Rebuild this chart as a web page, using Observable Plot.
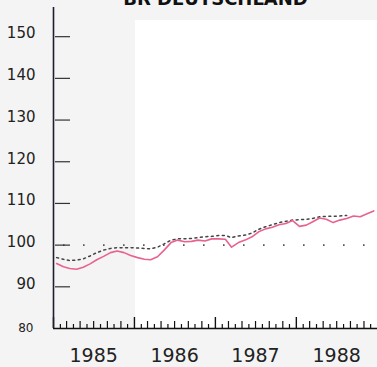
<!DOCTYPE html>
<html>
<head>
<meta charset="utf-8">
<script src="https://cdn.jsdelivr.net/npm/d3@7"></script>
<script src="https://cdn.jsdelivr.net/npm/@observablehq/plot@0.6"></script>
<style>
  html, body { margin: 0; padding: 0; background: #f4f4f4; }
  #wrap { position: relative; width: 377px; height: 367px; overflow: hidden; }
  #panel { position: absolute; left: 135px; top: 20px; right: 0; bottom: 40px; background: #ffffff; }
  #chart { position: absolute; left: 0; top: 0; }
</style>
</head>
<body>
<div id="wrap"><div id="panel"></div><div id="chart"></div></div>
<script>
const title = "BR DEUTSCHLAND";
const yearLabels = ["1985", "1986", "1987", "1988"];
const yTicks = [80, 90, 100, 110, 120, 130, 140, 150];
const refLevel = 100;
// monthly values, Jan 1985 onward
const actual = [
  95.6, 94.8, 94.4, 94.2, 94.7, 95.5, 96.5, 97.3, 98.2, 98.6, 98.2, 97.5,
  97.0, 96.6, 96.5, 97.2, 98.8, 100.6, 101.2, 100.8, 100.9, 101.2, 101.0, 101.5,
  101.5, 101.4, 99.5, 100.6, 101.2, 102.0, 103.2, 103.9, 104.3, 104.9, 105.2, 105.9,
  104.5, 104.8, 105.6, 106.5, 106.2, 105.4, 106.0, 106.4, 107.0, 106.8, 107.5, 108.2
];
const trend = [
  97.0, 96.6, 96.3, 96.4, 96.7, 97.4, 98.2, 98.8, 99.2, 99.4, 99.4, 99.4,
  99.3, 99.2, 99.1, 99.5, 100.3, 101.2, 101.5, 101.5, 101.6, 101.8, 102.0, 102.1,
  102.3, 102.3, 101.8, 102.2, 102.4, 102.9, 103.8, 104.4, 104.9, 105.4, 105.7, 106.0,
  106.1, 106.2, 106.4, 106.8, 106.9, 106.9, 107.0, 107.1
];

const startYear = +yearLabels[0];
const monthDate = (i, day = 15) => new Date(Date.UTC(startYear, i, day));
const actualData = actual.map((v, i) => ({date: monthDate(i), value: v}));
const trendData = trend.map((v, i) => ({date: monthDate(i), value: v}));
const nMonths = yearLabels.length * 12;
const monthTicks = d3.range(0, nMonths).map(i => ({date: new Date(Date.UTC(startYear, i, 1)), kind: i % 12 === 0 ? "year" : (i % 2 === 0 ? "mid" : "short")}));
const x0 = new Date(Date.UTC(startYear, 0, 1));
const x1 = new Date(Date.UTC(startYear + yearLabels.length, 0, 1));

const W = 377, H = 367, mL = 53, mR = 0, mT = 7, mB = 39;
const frameH = H - mT - mB;
const axisColor = "#1e1e2e";

const plot = Plot.plot({
  width: W, height: H,
  marginLeft: mL, marginRight: mR, marginTop: mT, marginBottom: mB,
  style: {fontFamily: "DejaVu Sans", background: "transparent", color: "#222", overflow: "visible"},
  x: {type: "utc", domain: [x0, x1], axis: null},
  y: {domain: [80, 157], axis: null},
  marks: [
    // reference dotted line at 100
    Plot.ruleY([refLevel], {stroke: "#555", strokeWidth: 1.6, strokeDasharray: "1.6,18.4", strokeDashoffset: 10}),
    // trend (dotted)
    Plot.line(trendData, {x: "date", y: "value", stroke: "#444", strokeWidth: 1.5, strokeDasharray: "2,3.5", curve: "linear"}),
    // actual (pink)
    Plot.line(actualData, {x: "date", y: "value", stroke: "#e8628e", strokeWidth: 1.6, curve: "linear"}),
    // y tick marks (inside)
    Plot.ruleY(yTicks.filter(d => d > 80), {stroke: "#333", strokeWidth: 1.2, insetLeft: 2, insetRight: W - mL - mR - 17}),
    // x tick marks
    Plot.ruleX(monthTicks.filter(d => d.kind === "year"), {x: "date", stroke: "#111", strokeWidth: 1.4, insetTop: frameH - 11}),
    Plot.ruleX(monthTicks.filter(d => d.kind === "mid"), {x: "date", stroke: "#111", strokeWidth: 1.2, insetTop: frameH - 7}),
    Plot.ruleX(monthTicks.filter(d => d.kind === "short"), {x: "date", stroke: "#111", strokeWidth: 1.2, insetTop: frameH - 4}),
    // axis lines
    Plot.ruleY([80], {stroke: "#111", strokeWidth: 1.5}),
    Plot.ruleX([x0], {stroke: axisColor, strokeWidth: 1.6}),
    // y labels
    Plot.text(yTicks.filter(d => d > 80), {x: () => x0, y: d => d, text: d => String(d), textAnchor: "end", dx: -18, dy: -3, fontSize: 15, fill: "#222"}),
    Plot.text(yTicks.filter(d => d === 80), {x: () => x0, y: d => d, text: d => String(d), textAnchor: "end", dx: -20, dy: 0, fontSize: 12, fill: "#222"}),
    // year labels
    Plot.text(yearLabels, {x: d => new Date(Date.UTC(+d, 6, 1)), y: () => 80, text: d => d, dy: 27, fontSize: 19, fill: "#222"}),
    // title (cut off at the top, as in the reference)
    Plot.text([title], {frameAnchor: "top", text: d => d, lineAnchor: "bottom", dy: -3, fontSize: 18, fontWeight: "bold", fill: "#111"})
  ]
});
document.getElementById("chart").appendChild(plot);
</script>
</body>
</html>
